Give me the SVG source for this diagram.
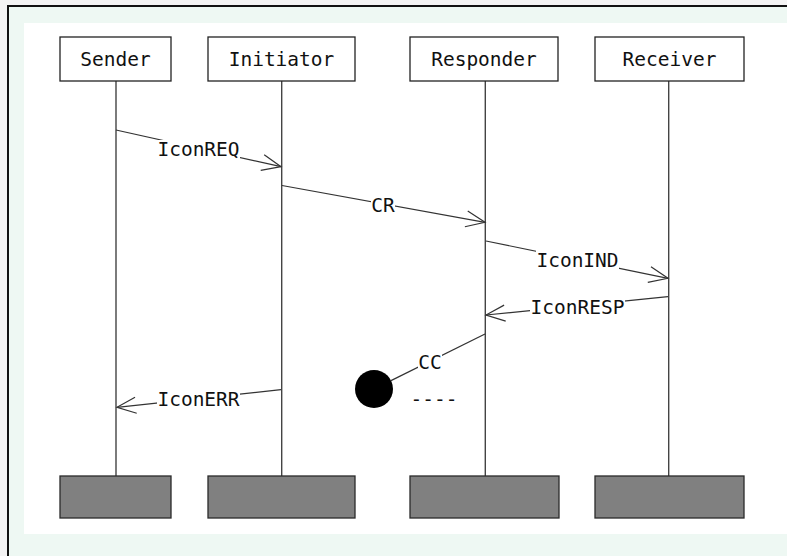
<svg xmlns="http://www.w3.org/2000/svg" width="787" height="556" viewBox="0 0 787 556">
<defs>
<style>
.hdr{fill:#ffffff;stroke:#222;stroke-width:1.3}
.ftr{fill:#808080;stroke:#2a2a2a;stroke-width:1.3}
.life{stroke:#444;stroke-width:1.4;fill:none}
.msg{stroke:#333;stroke-width:1.2;fill:none}
.t{font-family:"DejaVu Sans Mono","Liberation Mono",monospace;font-size:19.5px;fill:#111;text-anchor:middle}
.lbl{font-family:"DejaVu Sans Mono","Liberation Mono",monospace;font-size:19.5px;fill:#111;text-anchor:middle}
.bg{fill:#ffffff}
</style>
<marker id="arr" markerUnits="userSpaceOnUse" viewBox="-20 -10 22 20" refX="0" refY="0" markerWidth="22" markerHeight="20" orient="auto">
<path d="M-19,-8 L0,0 L-19,8" fill="none" stroke="#333" stroke-width="1.2"/>
</marker>
</defs>
<rect x="0" y="0" width="787" height="556" fill="#f3f3f3"/>
<rect x="8" y="6" width="790" height="560" fill="#eef8f3" stroke="#111" stroke-width="2"/>
<rect x="24" y="23" width="770" height="511" fill="#ffffff"/>

<g id="lifelines">
<line class="life" x1="116" y1="81" x2="116" y2="476"/>
<line class="life" x1="281.7" y1="81" x2="281.7" y2="476"/>
<line class="life" x1="485.3" y1="81" x2="485.3" y2="476"/>
<line class="life" x1="668.7" y1="81" x2="668.7" y2="476"/>
</g>

<g id="sender">
<rect class="hdr" x="60" y="37" width="111" height="44"/>
<text class="t" x="115.5" y="66">Sender</text>
<rect class="ftr" x="60" y="476" width="111" height="42"/>
</g>
<g id="initiator">
<rect class="hdr" x="208" y="37" width="147" height="44"/>
<text class="t" x="281.5" y="66">Initiator</text>
<rect class="ftr" x="208" y="476" width="147" height="42"/>
</g>
<g id="responder">
<rect class="hdr" x="410" y="37" width="148" height="44"/>
<text class="t" x="484" y="66">Responder</text>
<rect class="ftr" x="410" y="476" width="149" height="42"/>
</g>
<g id="receiver">
<rect class="hdr" x="595" y="37" width="149" height="44"/>
<text class="t" x="669.5" y="66">Receiver</text>
<rect class="ftr" x="595" y="476" width="149" height="42"/>
</g>

<g id="lost-end">
<circle cx="374" cy="389" r="19" fill="#000"/>
</g>

<g id="connectors">
<line class="msg" x1="116" y1="130" x2="281" y2="166.7" marker-end="url(#arr)"/>
<line class="msg" x1="282" y1="185.5" x2="485" y2="222.3" marker-end="url(#arr)"/>
<line class="msg" x1="486" y1="241" x2="668" y2="278.3" marker-end="url(#arr)"/>
<line class="msg" x1="668" y1="296.7" x2="486" y2="315" marker-end="url(#arr)"/>
<line class="msg" x1="485" y1="334" x2="391" y2="380.6"/>
<line class="msg" x1="281" y1="389.7" x2="117" y2="407.3" marker-end="url(#arr)"/>
</g>

<g id="labels">
<rect class="bg" x="157" y="140" width="83" height="19"/>
<text class="lbl" x="198.5" y="156">IconREQ</text>
<rect class="bg" x="371" y="195" width="24" height="19"/>
<text class="lbl" x="383" y="211.5">CR</text>
<rect class="bg" x="536" y="250" width="83" height="19"/>
<text class="lbl" x="577.5" y="266.5">IconIND</text>
<rect class="bg" x="530" y="297" width="95" height="19"/>
<text class="lbl" x="577.5" y="313.5">IconRESP</text>
<rect class="bg" x="418" y="352" width="24" height="19"/>
<text class="lbl" x="430" y="369">CC</text>
<rect class="bg" x="157" y="389" width="83" height="19"/>
<text class="lbl" x="198.5" y="405.5">IconERR</text>
<text class="lbl" x="434" y="405.5">----</text>
</g>
</svg>
